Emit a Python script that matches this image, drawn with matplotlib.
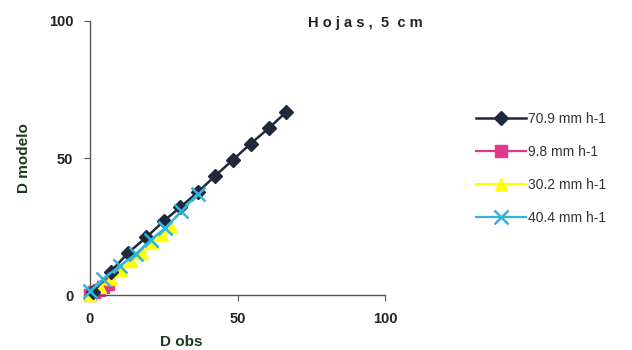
import matplotlib
matplotlib.use("Agg")
import matplotlib.pyplot as plt

plt.rcParams['font.family'] = ['Liberation Sans', 'DejaVu Sans']

# Data
s709_x = [1, 7, 13, 19, 25, 30.5, 36.5, 42.5, 48.5, 54.5, 60.5, 66.5]
s709_y = [1, 8.5, 15.5, 21, 27, 32, 37.5, 43.6, 49.4, 55.3, 60.8, 66.8]
s98_x = [0, 1.5, 3, 4.5, 6]
s98_y = [0, 1, 2, 3, 4]
s302_x = [0, 3.5, 7, 10.5, 14, 17.5, 21, 24.5, 27.5]
s302_y = [0, 2.8, 6, 9, 12.5, 15.5, 19, 22, 25]
s404_x = [0, 4.5, 10, 15.5, 20.5, 25.5, 31, 36.5]
s404_y = [1.5, 6, 10.5, 15, 20, 24.5, 30.5, 37]

labels = ['70.9 mm h-1', '9.8 mm h-1', '30.2 mm h-1', '40.4 mm h-1']
x_ticks = [0, 50, 100]
y_ticks = [0, 50, 100]

fig = plt.figure(figsize=(6.32, 3.5), dpi=100)
ax = fig.add_axes([0.1424, 0.157, 0.467, 0.783])

ax.plot(s709_x, s709_y, color='#1e2a3c', marker='D', markersize=7, lw=1.8, label=labels[0], zorder=3, clip_on=False)
ax.plot(s98_x, s98_y, color='#e0368c', marker='s', markersize=8, lw=1.6, label=labels[1], zorder=2, clip_on=False)
ax.plot(s302_x, s302_y, color='#ffff00', marker='^', markersize=9, lw=1.6, label=labels[2], zorder=2, clip_on=False)
ax.plot(s404_x, s404_y, color='#2fb4e0', marker='x', markersize=10, mew=1.8, lw=1.6, label=labels[3], zorder=4, clip_on=False)

ax.set_xlim(0, 100)
ax.set_ylim(0, 100)
ax.set_xticks(x_ticks)
ax.set_yticks(y_ticks)
for sp in ['top', 'right']:
    ax.spines[sp].set_visible(False)
for sp in ['left', 'bottom']:
    ax.spines[sp].set_color('#555555')
    ax.spines[sp].set_linewidth(1.0)
ax.tick_params(axis='both', direction='out', length=4, color='#555555',
               labelsize=10.5, labelcolor='#222222', pad=8)
for t in ax.get_xticklabels() + ax.get_yticklabels():
    t.set_fontweight('bold')

ax.set_xlabel('D obs', fontsize=11, fontweight='bold', color='#1e3a1e', labelpad=0)
ax.xaxis.set_label_coords(0.31, -0.145)
ax.set_ylabel('D modelo', fontsize=11, fontweight='bold', color='#1e3a1e')
ax.yaxis.set_label_coords(-0.20, 0.5)

fig.text(0.578, 0.935, 'H o j a s ,  5  c m', fontsize=10.5, fontweight='bold',
         color='#222222', ha='center', va='center')

leg = fig.legend(loc='upper left', bbox_to_anchor=(0.745, 0.695), frameon=False,
                 fontsize=10, handlelength=3.6, handletextpad=0.1,
                 labelspacing=1.35, borderaxespad=0)
for t in leg.get_texts():
    t.set_color('#333333')

fig.savefig('out.png', dpi=100, facecolor='white')
